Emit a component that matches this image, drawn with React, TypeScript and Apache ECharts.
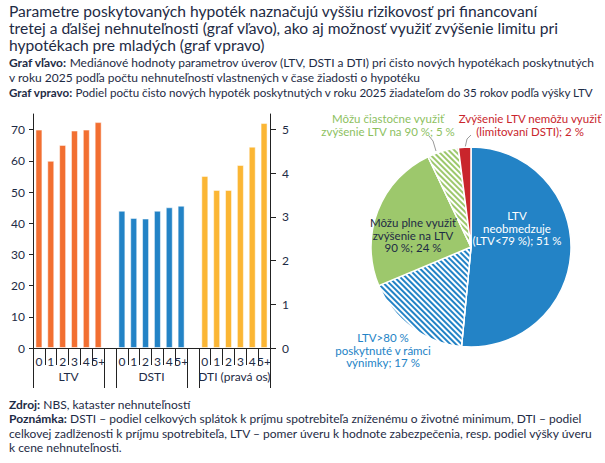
import React, { useEffect, useRef } from "react";
import * as echarts from "echarts";

const ownedCounts = ["0", "1", "2", "3", "4", "5+"];
const groupNames = ["LTV", "DSTI", "DTI (pravá os)"];
const ltvValues = [70, 60, 65.1, 69.7, 70, 72.4];
const dstiValues = [44, 41.7, 41.5, 44, 45.1, 45.6];
const dtiValues = [3.94, 3.62, 3.62, 4.19, 4.61, 5.15];

const leftTicks = [0, 10, 20, 30, 40, 50, 60, 70];
const rightTicks = [0, 1, 2, 3, 4, 5];

const pieValues = [51, 17, 24, 5, 2];
const pieLabels = [
  "LTV\nneobmedzuje\n(LTV<79 %); 51 %",
  "LTV>80 %\nposkytnuté v rámci\nvýnimky; 17 %",
  "Môžu plne využiť\nzvýšenie na LTV\n90 %; 24 %",
  "Môžu čiastočne využiť\nzvýšenie LTV na 90 %; 5 %",
  "Zvýšenie LTV nemôžu využiť\n(limitovaní DSTI); 2 %",
];

const titleLines = [
  "Parametre poskytovaných hypoték naznačujú vyššiu rizikovosť pri financovaní",
  "tretej a ďalšej nehnuteľnosti (graf vľavo), ako aj možnosť využiť zvýšenie limitu pri",
  "hypotékach pre mladých (graf vpravo)",
];
const subText =
  "{b|Graf vľavo:}{r| Mediánové hodnoty parametrov úverov (LTV, DSTI a DTI) pri čisto nových hypotékach poskytnutých}\n{r|v roku 2025 podľa počtu nehnuteľností vlastnených v čase žiadosti o hypotéku}\n{bs|Graf vpravo:}{rs| Podiel počtu čisto nových hypoték poskytnutých v roku 2025 žiadateľom do 35 rokov podľa výšky LTV}";
const footText =
  "{b|Zdroj:} NBS, kataster nehnuteľností\n{b|Poznámka:} DSTI – podiel celkových splátok k príjmu spotrebiteľa zníženému o životné minimum, DTI – podiel\ncelkovej zadlženosti k príjmu spotrebiteľa, LTV – pomer úveru k hodnote zabezpečenia, resp. podiel výšky úveru\nk cene nehnuteľnosti.";

const NAVY = "#1e2b45";
const ORANGE = "#f26f31";
const BLUE = "#2383c6";
const YELLOW = "#fbb634";
const GREEN = "#9dc86c";
const RED = "#c9252c";
const FONT = "Lato";

export default function App() {
  const ref = useRef<HTMLDivElement>(null);
  useEffect(() => {
    if (!ref.current) return;
    const chart = echarts.init(ref.current, null, { renderer: "svg" });

    const categories: string[] = [];
    const ltvData: (number | null)[] = [];
    const dstiData: (number | null)[] = [];
    const dtiData: (number | null)[] = [];
    const sets = [ltvValues, dstiValues, dtiValues];
    const groupTickValues: number[] = [];
    const groupLabelValues: number[] = [];
    groupNames.forEach((g, gi) => {
      groupTickValues.push(categories.length);
      groupLabelValues.push(categories.length + ownedCounts.length / 2);
      ownedCounts.forEach((c, ci) => {
        categories.push(c);
        ltvData.push(gi === 0 ? sets[0][ci] : null);
        dstiData.push(gi === 1 ? sets[1][ci] : null);
        dtiData.push(gi === 2 ? sets[2][ci] : null);
      });
      groupTickValues.push(categories.length);
      if (gi < groupNames.length - 1) {
        categories.push("");
        ltvData.push(null);
        dstiData.push(null);
        dtiData.push(null);
      }
    });
    const total = categories.length;

    const labelPos: Record<number, [number, number]> = {
      0: [517, 228],
      1: [383, 350],
      2: [413, 235],
      3: [388, 125],
      4: [530, 125],
    };
    const linePts: Record<number, number[][]> = {
      3: [
        [436, 151],
        [433, 141],
        [429, 136],
      ],
      4: [
        [465, 148],
        [467, 139],
        [471, 135],
      ],
    };

    const labelColors = ["#ffffff", BLUE, NAVY, "#8dbf5f", RED];
    const sliceColors = [BLUE, "#ffffff", GREEN, "#ffffff", RED];
    const decals: any[] = [
      null,
      { symbol: "rect", symbolSize: 1, color: BLUE, dashArrayX: [1, 0], dashArrayY: [1.3, 1.5], rotation: Math.PI / 4 },
      null,
      { symbol: "rect", symbolSize: 1, color: GREEN, dashArrayX: [1, 0], dashArrayY: [1.3, 1.5], rotation: Math.PI / 4 },
      null,
    ];

    const barBase = {
      type: "bar",
      barWidth: 7,
      barGap: "-100%",
      xAxisIndex: 0,
    };

    const subBase = { fontFamily: FONT, lineHeight: 15, color: NAVY };

    chart.setOption({
      animation: false,
      textStyle: { fontFamily: FONT },
      title: [
        {
          text: titleLines.map((l) => "{t|" + l + "}").join("\n"),
          left: 9,
          top: 2,
          padding: 0,
          textStyle: {
            fontFamily: FONT,
            fontSize: 15.6,
            lineHeight: 17.3,
            color: NAVY,
            fontWeight: "normal",
            rich: { t: { fontFamily: FONT, fontSize: 15.6, lineHeight: 17.3, color: NAVY, fontWeight: "normal" } },
          },
        },
        {
          text: subText,
          left: 9,
          top: 55,
          padding: 0,
          textStyle: {
            fontFamily: FONT,
            fontSize: 12,
            lineHeight: 15,
            color: NAVY,
            fontWeight: "normal",
            rich: {
              b: { ...subBase, fontSize: 12, fontWeight: "bold" },
              r: { ...subBase, fontSize: 12, fontWeight: "normal" },
              bs: { ...subBase, fontSize: 11.6, fontWeight: "bold" },
              rs: { ...subBase, fontSize: 11.6, fontWeight: "normal" },
            },
          },
        },
        {
          text: footText,
          left: 9,
          top: 397,
          padding: 0,
          textStyle: {
            fontFamily: FONT,
            fontSize: 12,
            lineHeight: 14.5,
            color: NAVY,
            fontWeight: "normal",
            rich: { b: { fontFamily: FONT, fontSize: 12, lineHeight: 14.5, color: NAVY, fontWeight: "bold" } },
          },
        },
      ],
      grid: { left: 33, right: 335, top: 114, bottom: 115, containLabel: false },
      xAxis: [
        {
          type: "category",
          data: categories,
          position: "bottom",
          axisLine: { show: true, lineStyle: { color: "#222", width: 1 } },
          axisTick: { show: true, interval: 0, length: 17, lineStyle: { color: "#222" } },
          axisLabel: { interval: 0, margin: 7, fontSize: 12, color: NAVY, fontFamily: FONT },
          splitLine: { show: false },
        },
        {
          type: "value",
          min: 0,
          max: total,
          position: "bottom",
          axisLine: { show: false },
          axisTick: { show: true, customValues: groupTickValues, length: 40, lineStyle: { color: "#222" } },
          axisLabel: {
            customValues: groupLabelValues,
            margin: 22,
            fontSize: 12,
            color: NAVY,
            fontFamily: FONT,
            formatter: (v: number) => {
              const i = groupLabelValues.indexOf(v);
              return i >= 0 ? groupNames[i] : "";
            },
          },
          splitLine: { show: false },
        },
      ],
      yAxis: [
        {
          type: "value",
          min: 0,
          max: 75,
          position: "left",
          axisLine: { show: true, lineStyle: { color: "#222" } },
          axisTick: { show: true, length: 4, customValues: leftTicks, lineStyle: { color: "#222" } },
          axisLabel: { customValues: leftTicks, margin: 8, fontSize: 12, color: NAVY, fontFamily: FONT },
          splitLine: { show: false },
        },
        {
          type: "value",
          min: 0,
          max: 75 / 14,
          position: "right",
          axisLine: { show: true, lineStyle: { color: "#222" } },
          axisTick: { show: true, length: 6, customValues: rightTicks, lineStyle: { color: "#222" } },
          axisLabel: { customValues: rightTicks, margin: 12, fontSize: 12, color: NAVY, fontFamily: FONT },
          splitLine: { show: false },
        },
      ],
      series: [
        {
          ...barBase,
          name: "LTV",
          yAxisIndex: 0,
          data: ltvData,
          itemStyle: { color: ORANGE, borderColor: "rgba(255,255,255,0.5)", borderWidth: 1 },
        },
        {
          ...barBase,
          name: "DSTI",
          yAxisIndex: 0,
          data: dstiData,
          itemStyle: { color: BLUE, borderColor: "rgba(255,255,255,0.5)", borderWidth: 1 },
        },
        {
          ...barBase,
          name: "DTI",
          yAxisIndex: 1,
          data: dtiData,
          itemStyle: { color: YELLOW, borderColor: "rgba(255,255,255,0.5)", borderWidth: 1 },
        },
        {
          type: "pie",
          center: [471, 247],
          radius: 100,
          startAngle: 90,
          clockwise: true,
          itemStyle: { borderColor: "#ffffff", borderWidth: 1.5 },
          emphasis: { disabled: true },
          label: {
            show: true,
            formatter: (p: any) => pieLabels[p.dataIndex],
            fontFamily: FONT,
            fontSize: 11.5,
            lineHeight: 12.5,
            align: "center",
          },
          labelLine: { show: false },
          labelLayout: (params: any) => {
            const i = params.dataIndex;
            const pos = labelPos[i];
            const res: any = { x: pos[0], y: pos[1], align: "center", verticalAlign: "middle" };
            if (linePts[i]) res.labelLinePoints = linePts[i];
            return res;
          },
          data: pieValues.map((v, i) => ({
            value: v,
            name: pieLabels[i],
            itemStyle: decals[i]
              ? { color: sliceColors[i], decal: decals[i] }
              : { color: sliceColors[i] },
            label: {
              position: i === 0 || i === 2 ? "inside" : "outside",
              color: labelColors[i],
            },
            labelLine: linePts[i]
              ? { show: true, length: 8, length2: 6, smooth: false, lineStyle: { color: "#9a9a9a", width: 1 } }
              : { show: false },
          })),
        },
      ],
    });

    return () => chart.dispose();
  }, []);

  return <div ref={ref} style={{ width: 605, height: 463, position: "absolute", left: 0, top: 0, background: "#fff" }} />;
}
